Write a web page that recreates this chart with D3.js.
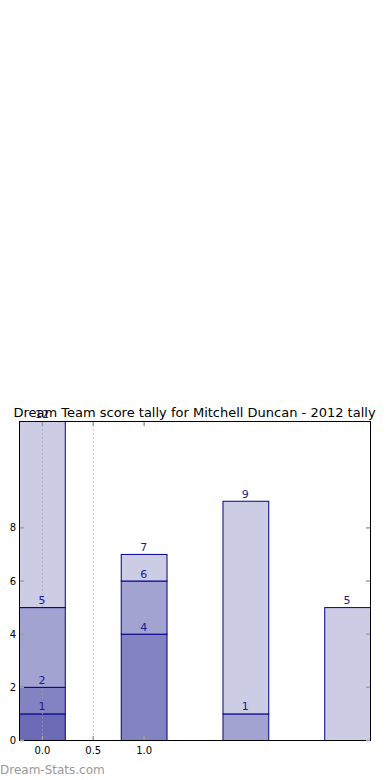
<!DOCTYPE html>
<html>
<head>
<meta charset="utf-8">
<script src="https://cdn.jsdelivr.net/npm/d3@7"></script>
<style>
  body { margin: 0; background: #fff; }
  svg { display: block; font-family: "DejaVu Sans", sans-serif; }
</style>
</head>
<body>
<div id="chart"></div>
<script>
// bar positions and the cumulative top of each stacked segment
const xPos = [0, 1, 2, 3];
const stackTops = [
  [1, 2, 5, 12],
  [4, 6, 7],
  [1, 9],
  [5]
];
const xTicks = [0, 0.5, 1];
const xTickLabels = ["0.0", "0.5", "1.0"];
const yTicks = [0, 2, 4, 6, 8];
const gridX = [0, 0.5];
const titleText = "Dream Team score tally for Mitchell Duncan - 2012 tally";

// shades from the top segment down (lightest first)
const shades = ["#cccce5", "#a3a3d1", "#8383c2", "#6b6bb5"];

const W = 390, H = 780;
const pLeft = 19, pRight = 370, pTop = 421, pBottom = 740;
const barW = 0.45;

const svg = d3.select("#chart").append("svg")
  .attr("width", W)
  .attr("height", H);

const x = d3.scaleLinear().domain([-0.225, 3.225]).range([pLeft, pRight]);
const y = d3.scaleLinear().domain([0, 12]).range([pBottom, pTop]);

// build segments
const segs = [];
stackTops.forEach((tops, b) => {
  tops.forEach((t, i) => {
    segs.push({
      x: xPos[b],
      y0: i === 0 ? 0 : tops[i - 1],
      y1: t,
      color: shades[tops.length - 1 - i]
    });
  });
});

svg.append("clipPath").attr("id", "plotclip")
  .append("rect")
  .attr("x", pLeft).attr("y", pTop - 1)
  .attr("width", pRight - pLeft).attr("height", pBottom - pTop + 2);

svg.append("g").attr("clip-path", "url(#plotclip)")
  .selectAll("rect").data(segs).enter()
  .append("rect")
  .attr("x", d => x(d.x - barW / 2) + 0.5)
  .attr("y", d => y(d.y1) + 0.5)
  .attr("width", d => x(d.x + barW / 2) - x(d.x - barW / 2))
  .attr("height", d => y(d.y0) - y(d.y1))
  .attr("fill", d => d.color)
  .attr("stroke", "#00008b")
  .attr("stroke-width", 1);

// dotted grid (over the bars)
svg.append("g").selectAll("line").data(gridX).enter()
  .append("line")
  .attr("x1", d => x(d) + 0.5).attr("x2", d => x(d) + 0.5)
  .attr("y1", pTop).attr("y2", pBottom)
  .attr("stroke", "#a0a0b0")
  .attr("stroke-opacity", 0.8)
  .attr("stroke-width", 1)
  .attr("stroke-dasharray", "1.5,2.5");

// segment labels
svg.append("g").selectAll("text").data(segs).enter()
  .append("text")
  .attr("x", d => x(d.x))
  .attr("y", d => y(d.y1) - 3)
  .attr("text-anchor", "middle")
  .attr("font-size", 11)
  .attr("fill", "#1c1c90")
  .text(d => d.y1);

// frame
svg.append("rect")
  .attr("x", pLeft + 0.5).attr("y", pTop + 0.5)
  .attr("width", pRight - pLeft).attr("height", pBottom - pTop)
  .attr("fill", "none")
  .attr("stroke", "#000")
  .attr("stroke-width", 1);

// ticks (inside, grey)
const tg = svg.append("g").attr("stroke", "#a0a0a0").attr("stroke-width", 1.5);
xTicks.forEach(t => {
  tg.append("line").attr("x1", x(t) + 0.5).attr("x2", x(t) + 0.5)
    .attr("y1", pBottom).attr("y2", pBottom - 4);
  tg.append("line").attr("x1", x(t) + 0.5).attr("x2", x(t) + 0.5)
    .attr("y1", pTop + 1).attr("y2", pTop + 5);
});
yTicks.forEach(t => {
  tg.append("line").attr("x1", pLeft + 1).attr("x2", pLeft + 5)
    .attr("y1", y(t) + 0.5).attr("y2", y(t) + 0.5);
  tg.append("line").attr("x1", pRight).attr("x2", pRight - 4)
    .attr("y1", y(t) + 0.5).attr("y2", y(t) + 0.5);
});

// tick labels
svg.append("g").selectAll("text").data(xTicks).enter()
  .append("text")
  .attr("x", d => x(d) + 0.5)
  .attr("y", pBottom + 14)
  .attr("text-anchor", "middle")
  .attr("font-size", 10)
  .attr("fill", "#000")
  .text((d, i) => xTickLabels[i]);

svg.append("g").selectAll("text").data(yTicks).enter()
  .append("text")
  .attr("x", pLeft - 3)
  .attr("y", d => y(d) + 4)
  .attr("text-anchor", "end")
  .attr("font-size", 10)
  .attr("fill", "#000")
  .text(d => d);

// title
svg.append("text")
  .attr("x", (pLeft + pRight) / 2)
  .attr("y", 417)
  .attr("text-anchor", "middle")
  .attr("font-size", 13)
  .attr("fill", "#000")
  .text(titleText);

// watermark
svg.append("text")
  .attr("x", 0)
  .attr("y", 774)
  .attr("font-size", 12)
  .attr("fill", "#999")
  .text("Dream-Stats.com");
</script>
</body>
</html>
